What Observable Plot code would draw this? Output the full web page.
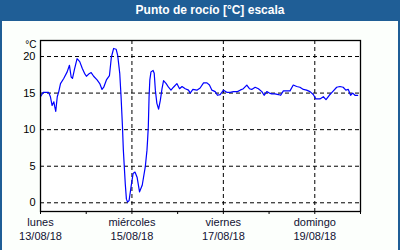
<!DOCTYPE html>
<html>
<head>
<meta charset="utf-8">
<script src="https://cdn.jsdelivr.net/npm/d3@7"></script>
<script src="https://cdn.jsdelivr.net/npm/@observablehq/plot@0.6"></script>
<style>
html,body{margin:0;padding:0;background:#fff;}
#wrap{width:396px;height:229px;border:2px solid #1f5e96;border-top:none;background:#fcfffc;position:relative;}
#title{width:400px;height:21px;background:#1f5e96;color:#fff;font:bold 12px "Liberation Sans",Arial,sans-serif;line-height:21px;text-align:center;box-sizing:border-box;padding-left:20px;}
#chart svg{display:block;}
</style>
</head>
<body>
<div id="title">Punto de rocío [°C] escala</div>
<div id="wrap"><div id="chart"></div></div>
<script>
// hours since 13/08/18 00:00
const hours = [0,1.4,4.3,5.2,6.1,7.0,7.5,8.0,8.8,9.6,10.5,12.2,14.0,15.2,16.1,16.8,17.8,19.2,20.6,21.9,23.1,24.1,25.3,26.6,27.9,29.7,31.1,32.3,33.2,34.6,36.2,37.2,38.4,39.7,40.5,41.6,42.3,43.0,43.5,44.5,45.1,45.7,46.5,47.5,48.6,49.6,50.7,52.0,53.4,55.0,55.9,56.2,56.6,57.0,57.4,58.0,59.1,59.7,60.3,61.1,62.0,62.9,63.8,64.6,66.0,67.2,68.5,69.8,71.6,73.0,74.3,76.0,77.7,78.6,80.0,82.1,83.8,85.6,87.4,88.7,90.0,91.7,92.9,94.3,96.1,97.8,99.6,101.3,103.4,104.8,106.5,108.3,109.7,110.9,112.7,114.4,116.2,117.4,118.8,120.2,121.4,123.1,124.9,126.1,127.5,129.3,131.0,132.7,134.5,136.2,138.0,139.7,141.5,143.2,144.6,146.7,148.5,149.9,151.6,153.4,155.5,157.2,158.9,160.3,161.6,162.8,163.9,165.1,166.5];
const dewPoint = [14.5,15.1,15.1,14.5,13.3,13.8,13.1,12.5,14.5,15.2,16.3,17.0,17.9,18.8,17.2,17.0,18.2,19.7,19.3,18.4,17.7,17.3,17.6,17.8,17.3,16.8,16.3,15.5,15.8,16.8,17.4,19.9,21.1,21.0,20.2,17.7,14.5,10.6,7.2,2.6,0.5,0.1,0.3,2.1,4.0,4.2,3.5,1.5,2.4,4.9,7.2,8.5,10.4,14.5,16.8,17.9,18.1,17.7,15.4,13.6,12.8,14.0,15.6,16.7,16.3,15.8,15.4,15.8,16.3,15.6,15.9,15.6,15.4,15.0,15.5,15.4,15.7,16.4,16.4,16.1,15.4,15.2,14.7,14.8,15.4,15.1,15.1,15.2,15.2,15.4,15.6,16.1,15.6,15.5,15.8,15.6,15.2,14.7,15.2,15.0,14.9,14.9,14.8,14.7,15.3,15.3,15.3,16.1,15.9,15.8,15.5,15.4,15.2,14.8,14.2,14.2,14.5,14.1,14.7,15.2,15.8,15.9,15.8,15.4,15.5,14.7,15.0,14.7,14.7];
const dayNames = ["lunes","miércoles","viernes","domingo"];
const dateLabels = ["13/08/18","15/08/18","17/08/18","19/08/18"];
const labelDays = [13,15,17,19];
const gridDays = [15,17,19];
const tickDays = [13,14,15,16,17,18,19,20];
const yTicks = [0,5,10,15,20];
const yUnit = "°C";

const day = d => new Date(Date.UTC(2018,7,d));
const t0 = Date.UTC(2018,7,13);
const data = hours.map((h,i)=>({t:new Date(t0+h*3600e3), v:dewPoint[i]}));
const labels = labelDays.map((d,i)=>({t:day(d), name:dayNames[i], date:dateLabels[i]}));

const chart = Plot.plot({
  width:396, height:227,
  marginLeft:38, marginRight:38, marginTop:19, marginBottom:37,
  style:{fontFamily:'"Liberation Sans", Arial, sans-serif', fontSize:"11px", background:"transparent", color:"#000"},
  x:{type:"utc", domain:[day(13),day(20)]},
  y:{domain:[-1.19,22.19]},
  marks:[
    Plot.frame({fill:"#fff"}),
    Plot.gridY(yTicks,{stroke:"#000", strokeOpacity:1, strokeDasharray:"4,3", strokeWidth:1}),
    Plot.gridX(gridDays.map(day),{stroke:"#000", strokeOpacity:1, strokeDasharray:"4,3", strokeWidth:1}),
    Plot.axisY(yTicks,{tickSize:0, tickPadding:5, label:null, fontSize:11}),
    Plot.axisX(tickDays.map(day),{tickSize:3, tickFormat:()=>"", label:null}),
    Plot.line(data,{x:"t", y:"v", stroke:"#0000ff", strokeWidth:1.2}),
    Plot.frame({stroke:"#000", strokeWidth:1.3}),
    Plot.text(labels,{x:"t", text:"name", frameAnchor:"bottom", dy:14, fill:"#111133", fontSize:11}),
    Plot.text(labels,{x:"t", text:"date", frameAnchor:"bottom", dy:28, fill:"#111133", fontSize:11}),
    Plot.text([yUnit],{frameAnchor:"top-left", text:d=>d, dx:-4, dy:0, textAnchor:"end", fontSize:10})
  ]
});
document.getElementById("chart").appendChild(chart);
</script>
</body>
</html>
